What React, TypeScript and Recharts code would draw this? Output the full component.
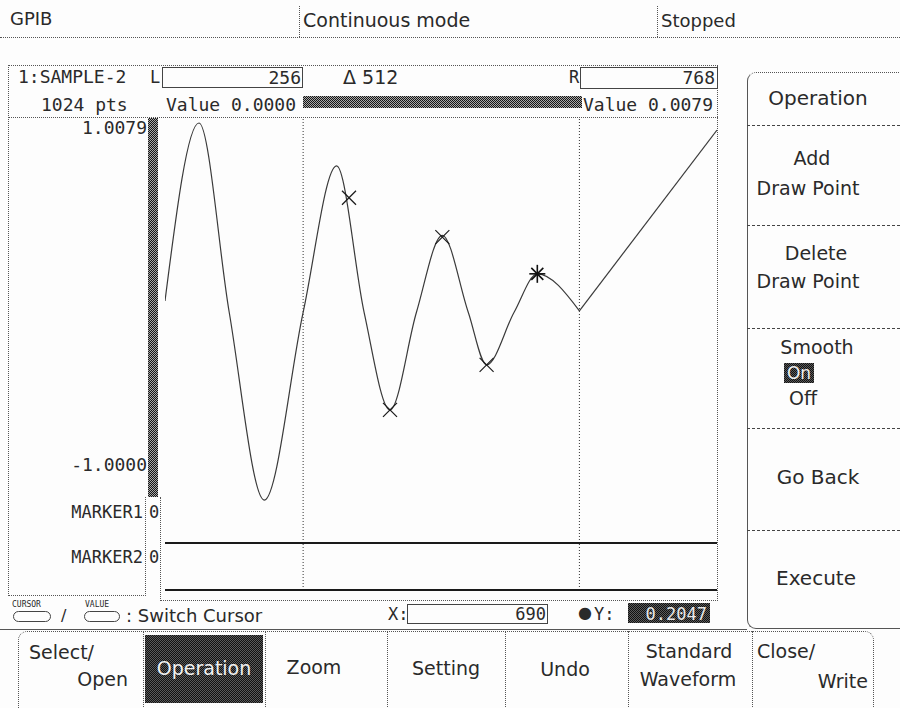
import React from 'react';
import { ComposedChart, LineChart, Line, Scatter, XAxis, YAxis, ReferenceLine } from 'recharts';

// ---------------- data ----------------
const headerFields = ['GPIB', 'Continuous mode', 'Stopped'];
const sampleName = '1:SAMPLE-2';
const pointCount = 1024;
const cursorL = 256;
const cursorR = 768;
const deltaLabel = 'Δ 512';
const valueL = 'Value 0.0000';
const valueR = 'Value 0.0079';
const yTopLabel = '1.0079';
const yBottomLabel = '-1.0000';
const yMax = 1.0079;
const yMin = -1.0;

// smoothed waveform key points (index, value)
const waveIndex = [0, 63, 119, 184, 256, 318, 369, 417, 466, 514, 562, 596, 647, 690, 768];
const waveValue = [0.06, 1.0079, 0.0, -1.0, 0.0, 0.78, 0.0, -0.52, 0.0, 0.41, 0.0, -0.28, 0.0, 0.2047, 0.0079];
// straight segment after the R cursor
const rampIndex = [768, 1023];
const rampValue = [0.0079, 0.97];
// draw points (×)
const drawPointIndex = [341, 417, 514, 596];
const drawPointValue = [0.61, -0.52, 0.4, -0.28];
// active cursor point (✱)
const activeIndex = [690];
const activeValue = [0.2047];
const cursorXText = '690';
const cursorYText = '0.2047';

const markerNames = ['MARKER1', 'MARKER2'];
const markerLevels = [0, 0];

const sideMenu = [
  ['Operation'],
  ['Add', 'Draw Point'],
  ['Delete', 'Draw Point'],
  ['Smooth', 'On', 'Off'],
  ['Go Back'],
  ['Execute'],
];
const bottomMenu = [
  ['Select/', 'Open'],
  ['Operation'],
  ['Zoom'],
  ['Setting'],
  ['Undo'],
  ['Standard', 'Waveform'],
  ['Close/', 'Write'],
];

// ---------------- helpers ----------------
const SANS = '"DejaVu Sans", sans-serif';
const MONO = '"DejaVu Sans Mono", monospace';
const INK = '#2a2a2a';
const DOT = '1px dotted #555';
const DITHER = 'repeating-conic-gradient(#151515 0% 25%, #a8a8a8 0% 50%) 0 0 / 2px 2px';
const DARK = 'repeating-conic-gradient(#111 0% 25%, #5a5a5a 0% 50%) 0 0 / 2px 2px';

function Txt({ x, y, a = 'l', size = 17, mono = false, color = INK, children, extra = {} }: any) {
  const tx = a === 'l' ? '0' : a === 'c' ? '-50%' : '-100%';
  return (
    <div
      style={{
        position: 'absolute', left: x, top: y, transform: `translate(${tx}, -50%)`,
        fontFamily: mono ? MONO : SANS, fontSize: size, color, whiteSpace: 'pre', lineHeight: 1,
        ...extra,
      }}
    >
      {children}
    </div>
  );
}

function Box({ l, t, w, h, s = {} }: any) {
  return <div style={{ position: 'absolute', left: l, top: t, width: w, height: h, boxSizing: 'border-box', ...s }} />;
}

const Cross = (props: any) => {
  const { cx, cy } = props;
  if (cx == null || cy == null) return null;
  const r = 7;
  return (
    <g stroke="#1a1a1a" strokeWidth={1.2}>
      <line x1={cx - r} y1={cy - r} x2={cx + r} y2={cy + r} />
      <line x1={cx - r} y1={cy + r} x2={cx + r} y2={cy - r} />
    </g>
  );
};

const Star = (props: any) => {
  const { cx, cy } = props;
  if (cx == null || cy == null) return null;
  const r = 6;
  return (
    <g stroke="#111" strokeWidth={1.6}>
      <line x1={cx - r} y1={cy - r} x2={cx + r} y2={cy + r} />
      <line x1={cx - r} y1={cy + r} x2={cx + r} y2={cy - r} />
      <line x1={cx} y1={cy - 9} x2={cx} y2={cy + 9} />
      <line x1={cx - 8} y1={cy} x2={cx + 8} y2={cy} />
    </g>
  );
};

export default function App() {
  const wave = waveIndex.map((i, k) => ({ i, v: waveValue[k] }));
  const ramp = rampIndex.map((i, k) => ({ i, v: rampValue[k] }));
  const draws = drawPointIndex.map((i, k) => ({ i, v: drawPointValue[k] }));
  const active = activeIndex.map((i, k) => ({ i, v: activeValue[k] }));
  const xDomain = [0, pointCount - 1];
  const plotW = 552;
  const plotH = 390;
  const yDomain = [yMin - 0.037, yMax + 0.032];

  return (
    <div style={{ position: 'absolute', left: 0, top: 0, width: 900, height: 708, background: '#fdfdfd', overflow: 'hidden' }}>
      {/* header */}
      <Txt x={10} y={19} size={18}>{headerFields[0]}</Txt>
      <Box l={299} t={6} w={1} h={31} s={{ borderLeft: DOT }} />
      <Txt x={303} y={20} size={19}>{headerFields[1]}</Txt>
      <Box l={657} t={6} w={1} h={31} s={{ borderLeft: DOT }} />
      <Txt x={661} y={21} size={18}>{headerFields[2]}</Txt>
      <Box l={0} t={37} w={900} h={1} s={{ borderTop: DOT }} />

      {/* info strip */}
      <Box l={8} t={65} w={710} h={1} s={{ borderTop: DOT }} />
      <Box l={8} t={65} w={1} h={531} s={{ borderLeft: DOT }} />
      <Box l={717} t={65} w={1} h={536} s={{ borderLeft: DOT }} />
      <Txt x={18} y={77} size={18} mono>{sampleName}</Txt>
      <Txt x={150} y={77} size={17} mono>L</Txt>
      <Box l={162} t={67} w={141} h={21} s={{ border: '1px solid #444' }} />
      <Txt x={301} y={78} a="r" size={18} mono>{String(cursorL)}</Txt>
      <Txt x={343} y={77} size={19}>{deltaLabel}</Txt>
      <Txt x={569} y={77} size={17} mono>R</Txt>
      <Box l={580} t={67} w={138} h={22} s={{ border: '1px solid #444' }} />
      <Txt x={715} y={78} a="r" size={18} mono>{String(cursorR)}</Txt>
      <Txt x={41} y={105} size={18} mono>{`${pointCount} pts`}</Txt>
      <Txt x={166} y={105} size={18} mono>{valueL}</Txt>
      <Box l={303} t={96} w={279} h={12} s={{ background: DITHER }} />
      <Txt x={583} y={105} size={18} mono>{valueR}</Txt>
      <Box l={8} t={117} w={710} h={1} s={{ borderTop: DOT }} />

      {/* left scale column */}
      <Txt x={147} y={128} a="r" size={18} mono>{yTopLabel}</Txt>
      <Txt x={147} y={465} a="r" size={18} mono>{yBottomLabel}</Txt>
      <Box l={148} t={118} w={10} h={379} s={{ background: DITHER }} />
      {markerNames.map((m, k) => (
        <React.Fragment key={m}>
          <Txt x={143} y={512 + k * 45} a="r" size={17} mono>{m}</Txt>
          <Txt x={149} y={512 + k * 45} size={17} mono>{String(markerLevels[k])}</Txt>
        </React.Fragment>
      ))}
      <Box l={145} t={497} w={1} h={99} s={{ borderLeft: DOT }} />
      <Box l={160} t={497} w={1} h={104} s={{ borderLeft: DOT }} />
      <Box l={8} t={595} w={138} h={1} s={{ borderTop: DOT }} />
      <Box l={160} t={600} w={558} h={1} s={{ borderTop: DOT }} />

      {/* waveform plot */}
      <div style={{ position: 'absolute', left: 165, top: 117 }}>
        <ComposedChart width={plotW} height={plotH} margin={{ top: 0, right: 0, bottom: 0, left: 0 }}>
          <XAxis type="number" dataKey="i" domain={xDomain} hide allowDataOverflow />
          <YAxis type="number" dataKey="v" domain={yDomain} hide allowDataOverflow />
          <ReferenceLine x={cursorL} stroke="#333" strokeDasharray="1 2" />
          <ReferenceLine x={cursorR} stroke="#333" strokeDasharray="1 2" />
          <Line data={wave} dataKey="v" type="monotoneX" stroke="#3a3a3a" strokeWidth={1.2} dot={false} isAnimationActive={false} />
          <Line data={ramp} dataKey="v" type="linear" stroke="#3a3a3a" strokeWidth={1.2} dot={false} isAnimationActive={false} />
          <Scatter data={draws} dataKey="v" shape={Cross} isAnimationActive={false} />
          <Scatter data={active} dataKey="v" shape={Star} isAnimationActive={false} />
        </ComposedChart>
      </div>

      {/* marker rows */}
      {markerNames.map((m, k) => (
        <div key={m} style={{ position: 'absolute', left: 165, top: k === 0 ? 507 : 543 }}>
          <LineChart
            width={plotW}
            height={k === 0 ? 37 : 48}
            data={xDomain.map((i) => ({ i, v: markerLevels[k] }))}
            margin={{ top: 0, right: 0, bottom: 1, left: 0 }}
          >
            <XAxis type="number" dataKey="i" domain={xDomain} hide />
            <YAxis type="number" domain={[0, 1]} hide />
            <ReferenceLine x={cursorL} stroke="#333" strokeDasharray="1 2" />
            <ReferenceLine x={cursorR} stroke="#333" strokeDasharray="1 2" />
            <Line dataKey="v" type="linear" stroke="#1a1a1a" strokeWidth={2} dot={false} isAnimationActive={false} />
          </LineChart>
        </div>
      ))}

      {/* cursor legend row */}
      <Txt x={12} y={605} size={8} mono>CURSOR</Txt>
      <Box l={13} t={611} w={38} h={11} s={{ border: '1px solid #444', borderRadius: 6 }} />
      <Txt x={61} y={616} size={16}>/</Txt>
      <Txt x={85} y={605} size={8} mono>VALUE</Txt>
      <Box l={84} t={611} w={36} h={11} s={{ border: '1px solid #444', borderRadius: 6 }} />
      <Txt x={126} y={616} size={18}>: Switch Cursor</Txt>
      <Txt x={388} y={614} size={17} mono>X:</Txt>
      <Box l={407} t={604} w={141} h={20} s={{ border: '1px solid #444' }} />
      <Txt x={546} y={614} a="r" size={17} mono>{cursorXText}</Txt>
      <Txt x={585} y={613} a="c" size={16}>●</Txt>
      <Txt x={594} y={614} size={17} mono>Y:</Txt>
      <Box l={628} t={603} w={82} h={20} s={{ background: DARK }} />
      <Txt x={707} y={614} a="r" size={17} mono color="#e8e8e8">{cursorYText}</Txt>

      {/* side menu */}
      <Box l={747} t={72} w={170} h={557} s={{ borderLeft: '1px solid #555', borderTop: DOT, borderBottom: '1px solid #555', borderRadius: '9px 0 0 9px' }} />
      {[125, 225, 328, 428, 530].map((y) => (
        <Box key={y} l={747} t={y} w={153} h={1} s={{ borderTop: '1px dashed #444' }} />
      ))}
      <Txt x={818} y={98} a="c" size={20}>{sideMenu[0][0]}</Txt>
      <Txt x={812} y={158} a="c" size={19}>{sideMenu[1][0]}</Txt>
      <Txt x={808} y={188} a="c" size={19}>{sideMenu[1][1]}</Txt>
      <Txt x={816} y={253} a="c" size={19}>{sideMenu[2][0]}</Txt>
      <Txt x={808} y={281} a="c" size={19}>{sideMenu[2][1]}</Txt>
      <Txt x={817} y={347} a="c" size={19}>{sideMenu[3][0]}</Txt>
      <Box l={784} t={363} w={30} h={20} s={{ background: DARK }} />
      <Txt x={799} y={373} a="c" size={17} color="#f0f0f0">{sideMenu[3][1]}</Txt>
      <Txt x={803} y={398} a="c" size={19}>{sideMenu[3][2]}</Txt>
      <Txt x={818} y={477} a="c" size={20}>{sideMenu[4][0]}</Txt>
      <Txt x={816} y={578} a="c" size={20}>{sideMenu[5][0]}</Txt>

      {/* bottom menu */}
      <Box l={0} t={629} w={747} h={1} s={{ borderTop: '1px solid #555' }} />
      <Box l={18} t={631} w={856} h={90} s={{ borderLeft: DOT, borderRight: DOT, borderTop: DOT, borderRadius: '9px 9px 0 0' }} />
      {[143, 265, 387, 505, 628, 752].map((x) => (
        <Box key={x} l={x} t={631} w={1} h={80} s={{ borderLeft: DOT }} />
      ))}
      <Txt x={29} y={652} size={19}>{bottomMenu[0][0]}</Txt>
      <Txt x={128} y={679} a="r" size={19}>{bottomMenu[0][1]}</Txt>
      <Box l={145} t={635} w={118} h={68} s={{ background: DARK }} />
      <Txt x={204} y={668} a="c" size={19} color="#f2f2f2">{bottomMenu[1][0]}</Txt>
      <Txt x={314} y={667} a="c" size={19}>{bottomMenu[2][0]}</Txt>
      <Txt x={446} y={668} a="c" size={19}>{bottomMenu[3][0]}</Txt>
      <Txt x={565} y={669} a="c" size={19}>{bottomMenu[4][0]}</Txt>
      <Txt x={689} y={651} a="c" size={19}>{bottomMenu[5][0]}</Txt>
      <Txt x={688} y={679} a="c" size={19}>{bottomMenu[5][1]}</Txt>
      <Txt x={757} y={651} size={19}>{bottomMenu[6][0]}</Txt>
      <Txt x={868} y={681} a="r" size={19}>{bottomMenu[6][1]}</Txt>
    </div>
  );
}
